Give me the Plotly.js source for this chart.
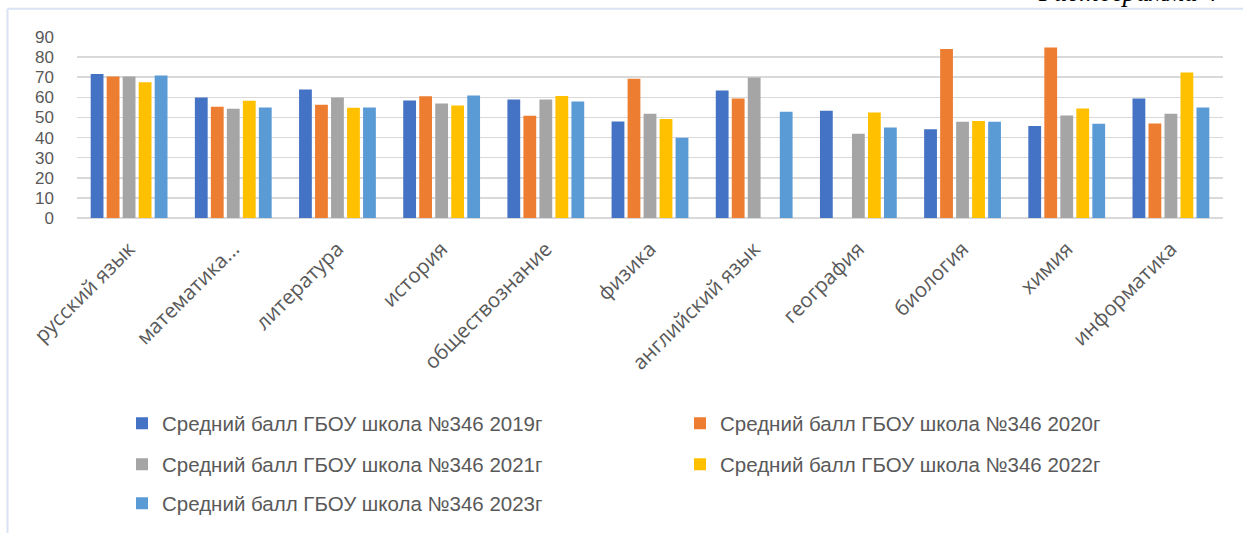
<!DOCTYPE html>
<html>
<head>
<meta charset="utf-8">
<script src="https://cdn.plot.ly/plotly-3.0.1.min.js"></script>
<style>
html,body{margin:0;padding:0;background:#fff;}
#chart{width:1243px;height:533px;}
</style>
</head>
<body>
<div id="chart"></div>
<script>
const categories = ["русский язык","математика...","литература","история","обществознание","физика","английский язык","география","биология","химия","информатика"];
const seriesNames = ["Средний балл ГБОУ школа №346 2019г","Средний балл ГБОУ школа №346 2020г","Средний балл ГБОУ школа №346 2021г","Средний балл ГБОУ школа №346 2022г","Средний балл ГБОУ школа №346 2023г"];
const y2019 = [71.6, 59.9, 63.9, 58.4, 58.9, 48.0, 63.4, 53.3, 44.1, 45.7, 59.4];
const y2020 = [70.3, 55.3, 56.3, 60.6, 50.8, 69.3, 59.4, null, 84.0, 84.8, 47.0];
const y2021 = [70.3, 54.3, 59.9, 56.9, 58.9, 51.8, 69.8, 41.9, 47.9, 51.0, 51.8];
const y2022 = [67.5, 58.3, 54.8, 55.9, 60.7, 49.2, null, 52.5, 48.2, 54.5, 72.4];
const y2023 = [70.8, 55.0, 55.0, 60.9, 57.9, 39.9, 52.8, 45.0, 47.9, 46.9, 55.0];
const yTicks = [0,10,20,30,40,50,60,70,80,90];

const colors = ["#4472c4","#ed7d31","#a5a5a5","#ffc000","#5b9bd5"];
const legendIds = ["legend","legend2","legend3","legend4","legend5"];
const allY = [y2019,y2020,y2021,y2022,y2023];

const W = 1243, H = 533;
const L = 77, R = 1223, T = 37.3, B = 219;
const px = p => (p - L) / (R - L);
const py = q => (B - q) / (B - T);

const traces = allY.map((ys,i)=>({
  type:'bar', x:categories, y:ys, name:seriesNames[i],
  marker:{color:colors[i], line:{width:0}},
  legend:legendIds[i], hoverinfo:'skip'
}));

const legendFont = {family:'Liberation Sans, Arial, sans-serif', size:20.5, color:'#595959'};
function mkLegend(colX, rowY){
  return {orientation:'h', x:px(colX), y:py(rowY), xanchor:'left', yanchor:'middle',
    font:legendFont, bgcolor:'rgba(0,0,0,0)', borderwidth:0};
}
const leftCol = 122, rightCol = 680;

const layout = {
  width:W, height:H,
  margin:{l:L, r:W-R, t:T, b:H-B, pad:0},
  paper_bgcolor:'#fff', plot_bgcolor:'#fff',
  barmode:'group', bargap:0.232, bargroupgap:0.2,
  showlegend:true,
  legend:mkLegend(leftCol,423), legend2:mkLegend(rightCol,423),
  legend3:mkLegend(leftCol,464), legend4:mkLegend(rightCol,464),
  legend5:mkLegend(leftCol,503),
  xaxis:{type:'category', tickangle:-45, showgrid:false, showline:false, zeroline:false, ticks:'', ticklabelstandoff:14,
    tickfont:{family:'Open Sans, sans-serif', size:20.5, color:'#595959'}, automargin:false},
  yaxis:{range:[0,90], tickvals:yTicks, ticktext:yTicks.map(String), showgrid:true, gridcolor:'#d9d9d9', gridwidth:1.5,
    zeroline:true, zerolinecolor:'#d9d9d9', zerolinewidth:1.5, showline:false, ticks:'', ticklabelstandoff:22,
    tickfont:{family:'Liberation Sans, Arial, sans-serif', size:17, color:'#595959'}, automargin:false},
  shapes:[
    {type:'line', xref:'paper', yref:'paper', x0:px(7.5), x1:px(7.5), y0:py(9), y1:py(540), line:{color:'#dae3f3', width:2}},
    {type:'line', xref:'paper', yref:'paper', x0:px(7.5), x1:px(1250), y0:py(9), y1:py(9), line:{color:'#dae3f3', width:2}}
  ],
  annotations:[
    {text:'Гистограмма 4', xref:'paper', yref:'paper', x:px(1036), y:py(-8), xanchor:'left', yanchor:'middle',
     showarrow:false, font:{family:'Liberation Serif, serif', size:27, color:'#000', style:'italic'}}
  ]
};

Plotly.newPlot('chart', traces, layout, {staticPlot:true, displayModeBar:false});
</script>
</body>
</html>
